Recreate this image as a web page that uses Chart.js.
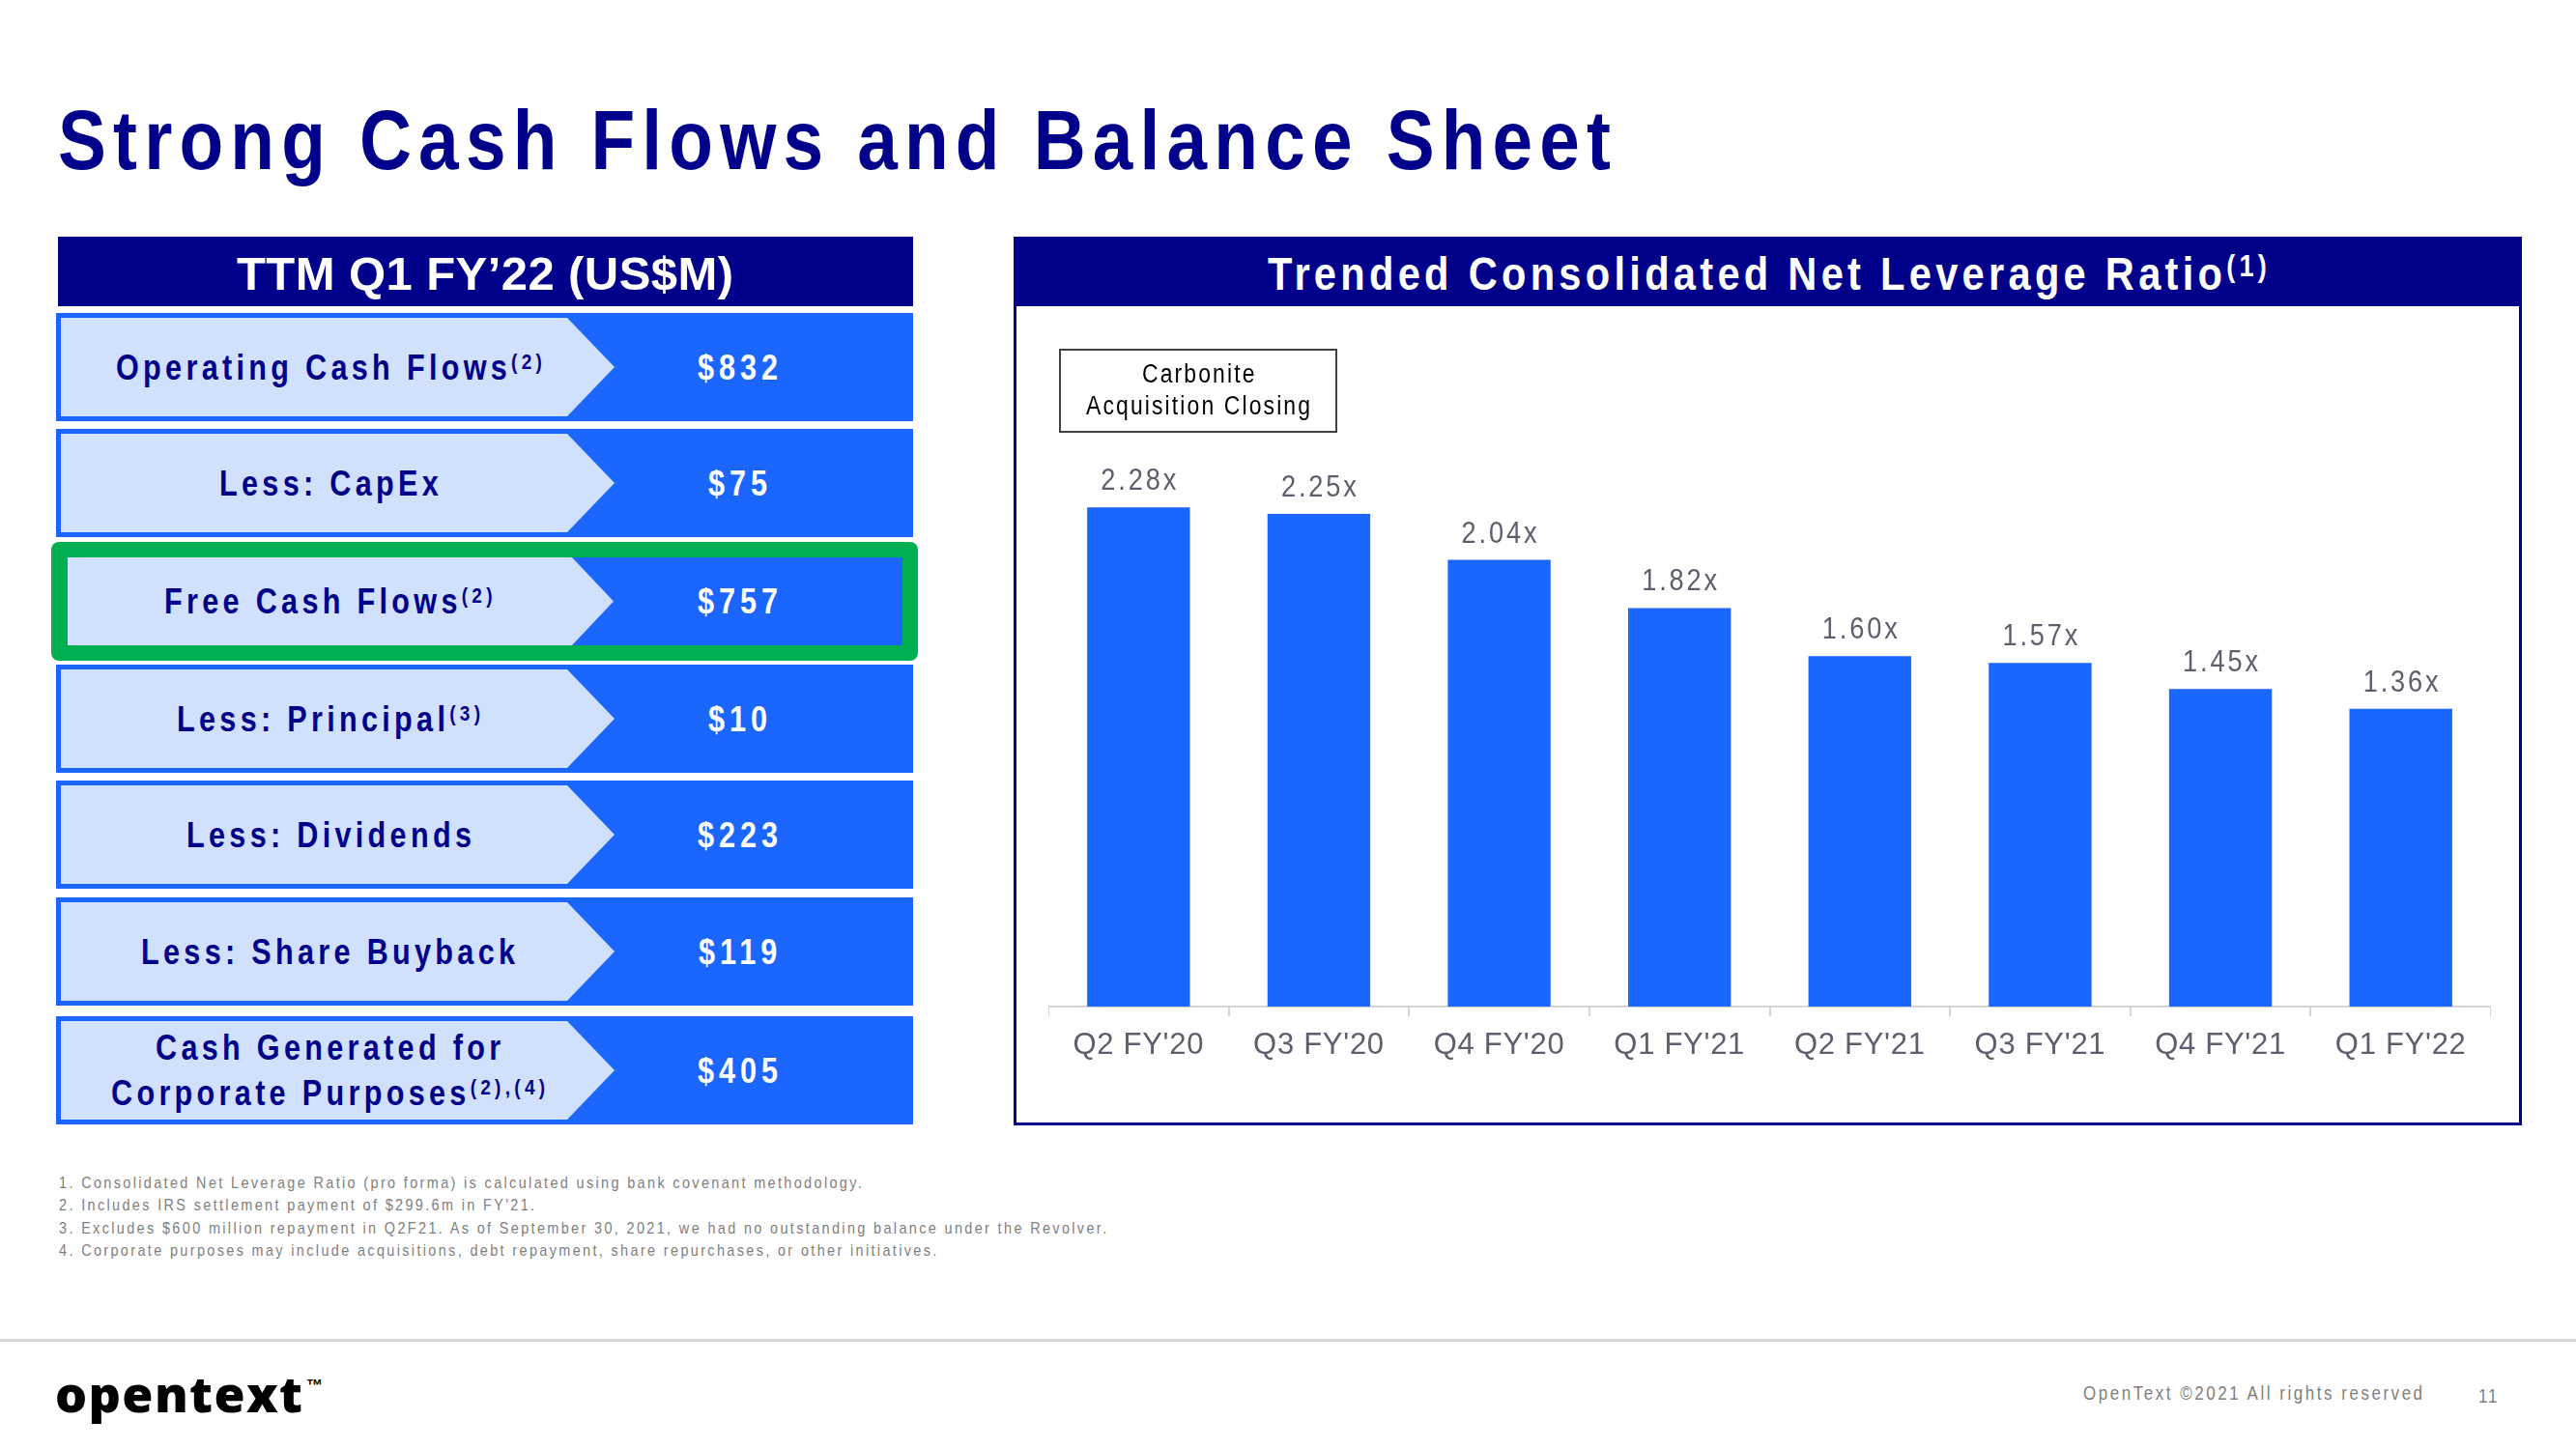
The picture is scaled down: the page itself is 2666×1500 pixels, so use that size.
<!DOCTYPE html>
<html>
<head>
<meta charset="utf-8">
<title>Strong Cash Flows and Balance Sheet</title>
<script src="https://cdn.jsdelivr.net/npm/chart.js@4.4.0/dist/chart.umd.min.js"></script>
<style>
html, body { margin: 0; padding: 0; background: #fff; }
#stage { position: relative; width: 2666px; height: 1500px; overflow: hidden; background: #fff; }
.t { position: absolute; white-space: nowrap; transform-origin: 0 0; }
.sup { font-size: 0.62em; vertical-align: 0.5em; line-height: 0; }
.box { position: absolute; box-sizing: border-box; }
#chartWrap { position: absolute; left: 1085px; top: 362px; width: 1493px; height: 750px; }
</style>
</head>
<body>
<div id="stage">
  <div id="chartWrap"><canvas id="leverageChart" width="1493" height="750"></canvas></div>
</div>
<script>
// ---- data ----
const cashLabels = ['Operating Cash Flows', 'Less: CapEx', 'Free Cash Flows', 'Less: Principal',
                    'Less: Dividends', 'Less: Share Buyback', 'Cash Generated for|Corporate Purposes'];
const cashNotes = ['(2)', '', '(2)', '(3)', '', '', '(2),(4)'];
const cashValues = [832, 75, 757, 10, 223, 119, 405];
const highlightRow = 2;

const quarters = ["Q2 FY'20", "Q3 FY'20", "Q4 FY'20", "Q1 FY'21", "Q2 FY'21", "Q3 FY'21", "Q4 FY'21", "Q1 FY'22"];
const leverage = [2.28, 2.25, 2.04, 1.82, 1.60, 1.57, 1.45, 1.36];

const footnotes = [
    '1. Consolidated Net Leverage Ratio (pro forma) is calculated using bank covenant methodology.',
    "2. Includes IRS settlement payment of $299.6m in FY'21.",
    '3. Excludes $600 million repayment in Q2F21. As of September 30, 2021, we had no outstanding balance under the Revolver.',
    '4. Corporate purposes may include acquisitions, debt repayment, share repurchases, or other initiatives.'
];

// ---- look ----
const NAVY = '#00008b';
const BLUE = '#1a66ff';
const LIGHT = '#d1e0fd';
const GREEN = '#00b050';
const LABEL_GRAY = '#5e5e6e';
const AXIS_GRAY = '#d6d6d6';
const SANS = "'Liberation Sans', Arial, sans-serif";

const stage = document.getElementById('stage');
const mctx = document.createElement('canvas').getContext('2d');

function textWidth(text, font) {
    mctx.font = font;
    return mctx.measureText(text).width;
}

// the slide uses a narrow face; squeeze the normal one if the narrow one is missing
const HAS_NARROW = textWidth('Narrow check 0123', "bold 50px 'Liberation Sans Narrow', monospace") !==
                   textWidth('Narrow check 0123', 'bold 50px monospace');
const NARROW = HAS_NARROW ? "'Liberation Sans Narrow', 'Liberation Sans', sans-serif" : SANS;
const SQUEEZE = HAS_NARROW ? 1 : 0.85;

// letter spacing needed so that sample text spans the width seen on the slide
function spacingFor(sample, font, target, sx) {
    return (target / (sx || 1) - textWidth(sample, font)) / (sample.length - 1);
}

function box(x, y, w, h, css) {
    let d = document.createElement('div');
    d.className = 'box';
    d.style.left = x + 'px';
    d.style.top = y + 'px';
    d.style.width = w + 'px';
    d.style.height = h + 'px';
    Object.assign(d.style, css || {});
    stage.appendChild(d);
    return d;
}

function put(html, o) {
    let sx = o.sx || 1;
    let ls = o.ls || 0;
    let d = document.createElement('div');
    d.className = 't';
    d.innerHTML = html;
    d.style.font = (o.weight || 'normal') + ' ' + o.size + 'px ' + (o.family || NARROW);
    d.style.lineHeight = '1';
    d.style.color = o.color || '#000';
    d.style.letterSpacing = ls + 'px';
    if (sx !== 1) d.style.transform = 'scaleX(' + sx + ')';
    d.style.top = (o.base - 0.8465 * o.size) + 'px';
    stage.appendChild(d);
    let w = d.getBoundingClientRect().width;
    let left = o.align === 'center' ? o.x - (w - ls * sx) / 2 : o.x;
    d.style.left = left + 'px';
    return d;
}

// ---- title ----
const TITLE = 'Strong Cash Flows and Balance Sheet';
put(TITLE, {x: 60, base: 175, size: 88, weight: 'bold', color: NAVY, sx: SQUEEZE,
    ls: spacingFor(TITLE, 'bold 88px ' + NARROW, 1607, SQUEEZE)});

// ---- left panel ----
box(60, 245, 885, 72, {background: NAVY});
const LEFT_HEAD = 'TTM Q1 FY\u201922 (US$M)';
put(LEFT_HEAD, {x: 502, base: 300, size: 49, weight: 'bold', color: '#fff', align: 'center', family: SANS,
    ls: spacingFor(LEFT_HEAD, 'bold 49px ' + SANS, 514)});

const rowCenters = [380, 500, 622, 744, 864, 985, 1108];
const labelLs = spacingFor('Less: Share Buyback', 'bold 36px ' + NARROW, 387, SQUEEZE);
const valueLs = spacingFor('$832', 'bold 36px ' + NARROW, 83, SQUEEZE);

cashLabels.forEach((label, i) => {
    let c = rowCenters[i];
    if (i === highlightRow) {
        box(53, c - 61, 897, 123, {background: GREEN, borderRadius: '8px'});
        box(70, c - 45, 864, 91, {background: BLUE});
        box(70, c - 45, 565, 91, {background: LIGHT,
            clipPath: 'polygon(0 0, 522px 0, 565px 50%, 522px 100%, 0 100%)'});
    } else {
        box(58, c - 56, 887, 112, {background: BLUE});
        box(63, c - 51, 573, 102, {background: LIGHT,
            clipPath: 'polygon(0 0, 524px 0, 573px 50%, 524px 100%, 0 100%)'});
    }
    let lines = label.split('|');
    let note = cashNotes[i] ? '<span class="sup">' + cashNotes[i] + '</span>' : '';
    lines.forEach((line, k) => {
        let base = c + 13 + (k - (lines.length - 1) / 2) * 47;
        let html = line + (k === lines.length - 1 ? note : '');
        put(html, {x: 340, base: base, size: 36, weight: 'bold', color: NAVY, align: 'center',
            ls: labelLs, sx: SQUEEZE});
    });
    put('$' + cashValues[i], {x: 764, base: c + 13, size: 36, weight: 'bold', color: '#fff', align: 'center',
        ls: valueLs, sx: SQUEEZE});
});

// ---- right panel ----
box(1049, 245, 1561, 920, {border: '3px solid ' + NAVY});
box(1049, 245, 1561, 72, {background: NAVY, borderTopRightRadius: '4px'});
const RIGHT_HEAD = 'Trended Consolidated Net Leverage Ratio';
put(RIGHT_HEAD + '<span class="sup" style="font-size:0.65em;vertical-align:0.45em">(1)</span>',
    {x: 1829, base: 300, size: 49, weight: 'bold', color: '#fff', align: 'center', sx: SQUEEZE,
     ls: spacingFor(RIGHT_HEAD, 'bold 49px ' + NARROW, 988, SQUEEZE)});

box(1096, 361, 288, 87, {border: '2px solid #404040', background: '#fff'});
const carbLs = spacingFor('Acquisition Closing', '27px ' + NARROW, 232, SQUEEZE);
put('Carbonite', {x: 1240, base: 397, size: 27, color: '#000', align: 'center', ls: carbLs, sx: SQUEEZE});
put('Acquisition Closing', {x: 1240, base: 430, size: 27, color: '#000', align: 'center', ls: carbLs, sx: SQUEEZE});

// ---- footnotes and footer ----
const noteLs = spacingFor(footnotes[2], '17px ' + NARROW, 1085, SQUEEZE);
footnotes.forEach((f, i) => {
    put(f, {x: 61, base: 1230 + i * 23.5, size: 17, color: '#7f7f7f', ls: noteLs, sx: SQUEEZE});
});
box(0, 1386, 2666, 3, {background: '#d9d9d9'});
const LOGO_FONT = "800 52px 'Open Sans', 'Liberation Sans', sans-serif";
put('opentext', {x: 57, base: 1460, size: 52, weight: '800', color: '#000',
    family: "'Open Sans', 'Liberation Sans', sans-serif",
    ls: spacingFor('opentext', LOGO_FONT, 256)});
put('\u2122', {x: 317, base: 1440, size: 17, weight: 'bold', color: '#000', family: SANS});
const COPY = 'OpenText \u00a92021 All rights reserved';
put(COPY, {x: 2156, base: 1449, size: 20, color: '#808080', sx: SQUEEZE,
    ls: spacingFor(COPY, '20px ' + NARROW, 352, SQUEEZE)});
put('11', {x: 2565, base: 1452, size: 20, color: '#808080', sx: SQUEEZE, ls: 2});

// ---- bar chart ----
const tickFont = {family: SANS, size: 31};
const tickLs = spacingFor(quarters[0], '31px ' + SANS, 135);
const valueFont = '32px ' + NARROW;
const barLabelLs = spacingFor('2.28x', valueFont, 78, SQUEEZE);

const letterSpacingPlugin = {
    id: 'letterSpacing',
    beforeDraw(chart) {
        chart.ctx.letterSpacing = tickLs + 'px';
    }
};

const barLabelPlugin = {
    id: 'barLabels',
    afterDatasetsDraw(chart) {
        let ctx = chart.ctx;
        let meta = chart.getDatasetMeta(0);
        meta.data.forEach((bar, i) => {
            ctx.save();
            ctx.font = valueFont;
            ctx.letterSpacing = barLabelLs + 'px';
            ctx.fillStyle = LABEL_GRAY;
            ctx.textAlign = 'center';
            ctx.textBaseline = 'alphabetic';
            ctx.translate(bar.x + barLabelLs * SQUEEZE / 2, bar.y - 18);
            ctx.scale(SQUEEZE, 1);
            ctx.fillText(leverage[i].toFixed(2) + 'x', 0, 0);
            ctx.restore();
        });
    }
};

let chartCtx = document.getElementById('leverageChart').getContext('2d');
window.leverageChart = new Chart(chartCtx, {
    type: 'bar',
    data: {
        labels: quarters,
        datasets: [{
            label: 'Consolidated Net Leverage Ratio',
            data: leverage,
            backgroundColor: BLUE,
            borderWidth: 0,
            barPercentage: 0.57,
            categoryPercentage: 1
        }]
    },
    options: {
        responsive: false,
        animation: false,
        devicePixelRatio: 1,
        layout: { padding: 0 },
        plugins: {
            legend: { display: false },
            tooltip: { enabled: false }
        },
        scales: {
            x: {
                grid: {
                    offset: true,
                    drawOnChartArea: false,
                    drawTicks: true,
                    tickLength: 10,
                    color: AXIS_GRAY,
                    lineWidth: 2
                },
                border: { display: true, color: AXIS_GRAY, width: 2 },
                ticks: {
                    color: LABEL_GRAY,
                    font: tickFont,
                    padding: 12,
                    autoSkip: false,
                    maxRotation: 0
                },
                afterFit: (scale) => { scale.height = 70; }
            },
            y: {
                display: false,
                min: 0,
                max: 3
            }
        }
    },
    plugins: [letterSpacingPlugin, barLabelPlugin]
});
</script>
</body>
</html>
